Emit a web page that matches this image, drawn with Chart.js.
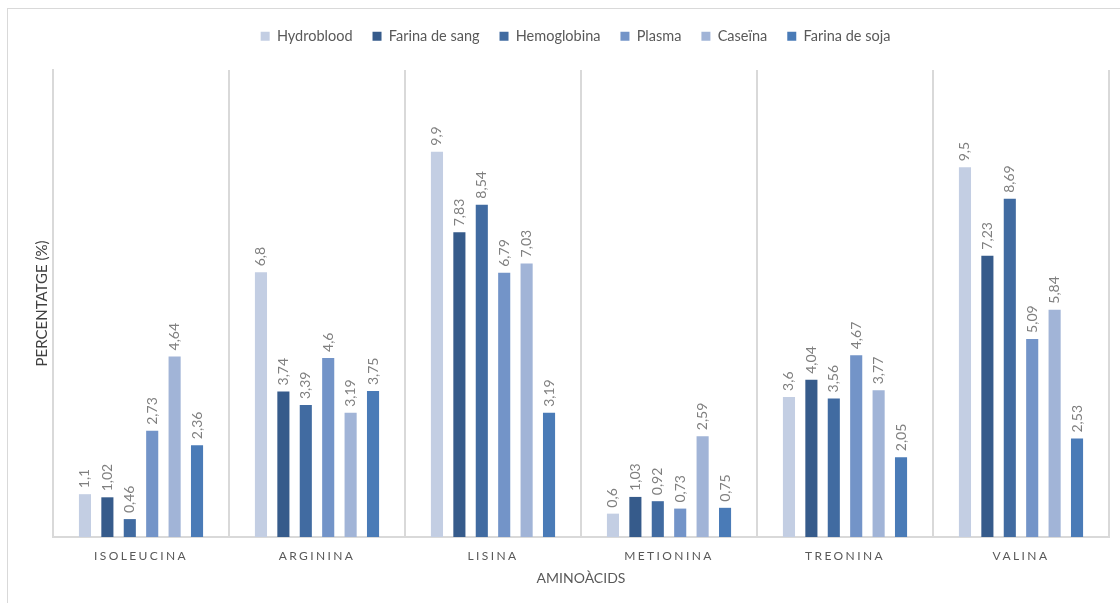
<!DOCTYPE html>
<html>
<head>
<meta charset="utf-8">
<script src="https://cdn.jsdelivr.net/npm/chart.js@4"></script>
<style>
  html, body { margin: 0; padding: 0; background: #fff; overflow: hidden; }
  #frame { position: absolute; left: 7px; top: 8px; width: 1200px; height: 700px;
           border: 1px solid #d9d9d9; pointer-events: none; }
</style>
</head>
<body>
<canvas id="chart" width="1120" height="603"></canvas>
<div id="frame"></div>
<script>
const categories = ["Isoleucina", "Arginina", "Lisina", "Metionina", "Treonina", "Valina"];
const hydroblood = [1.1, 6.8, 9.9, 0.6, 3.6, 9.5];
const farinaSang = [1.02, 3.74, 7.83, 1.03, 4.04, 7.23];
const hemoglobina = [0.46, 3.39, 8.54, 0.92, 3.56, 8.69];
const plasma = [2.73, 4.6, 6.79, 0.73, 4.67, 5.09];
const caseina = [4.64, 3.19, 7.03, 2.59, 3.77, 5.84];
const farinaSoja = [2.36, 3.75, 3.19, 0.75, 2.05, 2.53];

const FONT = "Lato";
const gray = "#595959";

// value labels standing on top of each bar, rotated
const barLabels = {
    id: "barLabels",
    afterDatasetsDraw(chart) {
        const ctx = chart.ctx;
        ctx.save();
        ctx.font = "14px " + FONT;
        ctx.fillStyle = "#7f7f7f";
        ctx.textAlign = "left";
        ctx.textBaseline = "middle";
        chart.data.datasets.forEach((ds, i) => {
            chart.getDatasetMeta(i).data.forEach((bar, j) => {
                const txt = String(ds.data[j]).replace(".", ",");
                ctx.save();
                ctx.translate(bar.x, bar.y - 6);
                ctx.rotate(-Math.PI / 2);
                ctx.fillText(txt, 0, 0);
                ctx.restore();
            });
        });
        ctx.restore();
    },
};

// fixed legend height, legend nudged right, spaced-out x tick labels
const tweaks = {
    id: "tweaks",
    beforeInit(chart) {
        const lg = chart.legend;
        const fit = lg.fit;
        lg.fit = function () {
            fit.call(this);
            this.height = 61;
        };
    },
    afterLayout(chart) {
        chart.legend.left += 21;
        chart.legend.right += 21;
    },
    afterUpdate(chart) {
        const s = chart.scales.x;
        if (s && !s._spaced) {
            const draw = s.drawLabels;
            s.drawLabels = function (area) {
                this.ctx.save();
                this.ctx.letterSpacing = "2.4px";
                draw.call(this, area);
                this.ctx.restore();
            };
            s._spaced = true;
        }
    },
};

const mk = (label, data, color) => ({
    label,
    data,
    backgroundColor: color,
    categoryPercentage: 0.764,
    barPercentage: 0.54,
});

new Chart(document.getElementById("chart").getContext("2d"), {
    type: "bar",
    data: {
        labels: categories,
        datasets: [
            mk("Hydroblood", hydroblood, "#c3cee3"),
            mk("Farina de sang", farinaSang, "#365b8b"),
            mk("Hemoglobina", hemoglobina, "#416ba1"),
            mk("Plasma", plasma, "#7394c8"),
            mk("Caseïna", caseina, "#a1b4d7"),
            mk("Farina de soja", farinaSoja, "#4a7bb7"),
        ],
    },
    options: {
        responsive: false,
        animation: false,
        layout: { padding: { left: 0, right: 11, top: 9, bottom: 0 } },
        scales: {
            x: {
                grid: { display: true, color: "#d9d9d9", lineWidth: 2, drawTicks: false, offset: true },
                border: { display: true, color: "#d9d9d9", width: 2 },
                ticks: {
                    padding: 12,
                    color: gray,
                    font: { family: FONT, size: 12 },
                    callback: function (v) { return this.getLabelForValue(v).toUpperCase(); },
                },
                title: {
                    display: true,
                    text: "AMINOÀCIDS",
                    color: gray,
                    font: { family: FONT, size: 14 },
                    padding: { top: 4, bottom: 16 },
                },
                afterFit(scale) { scale.height = 66; },
            },
            y: {
                min: 0,
                max: 12,
                grid: { display: false },
                border: { display: true, color: "#d9d9d9", width: 2 },
                ticks: { display: false },
                title: {
                    display: true,
                    text: "PERCENTATGE (%)",
                    color: "#404040",
                    font: { family: FONT, size: 15 },
                    padding: { top: 33, bottom: 0 },
                },
                afterFit(scale) { scale.width = 53; },
            },
        },
        plugins: {
            legend: {
                position: "top",
                labels: {
                    boxWidth: 9,
                    boxHeight: 9,
                    padding: 20,
                    color: gray,
                    font: { family: FONT, size: 14.5 },
                },
            },
            tooltip: { enabled: false },
        },
    },
    plugins: [barLabels, tweaks],
});
</script>
</body>
</html>
